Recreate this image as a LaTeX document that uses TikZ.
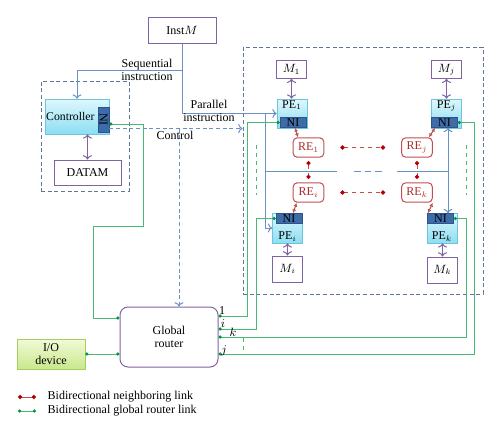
\documentclass[tikz,border=0pt]{standalone}
\usepackage{fontspec}
\setmainfont{Liberation Serif}
\usepackage{amsmath}
\usepackage{tikz}
\usetikzlibrary{arrows.meta}

\definecolor{memPurple}{RGB}{128,100,162}
\definecolor{grpBlue}{RGB}{95,118,150}
\definecolor{insBlue}{RGB}{105,145,200}
\definecolor{peTop}{RGB}{222,247,253}
\definecolor{peBot}{RGB}{140,222,242}
\definecolor{peEdge}{RGB}{110,195,222}
\definecolor{niFill}{RGB}{62,108,168}
\definecolor{niEdge}{RGB}{45,85,140}
\definecolor{reRed}{RGB}{192,80,77}
\definecolor{reText}{RGB}{170,45,45}
\definecolor{dotRed}{RGB}{180,0,0}
\definecolor{glGreen}{RGB}{70,185,115}
\definecolor{glDot}{RGB}{0,150,60}
\definecolor{ioTop}{RGB}{242,250,215}
\definecolor{ioBot}{RGB}{200,232,140}
\definecolor{ioEdge}{RGB}{165,205,95}

\begin{document}
\begin{tikzpicture}[x=0.75pt,y=0.75pt,yscale=-1,xscale=1,
  font=\fontsize{9}{9.75}\selectfont,
  membox/.style={draw=memPurple, fill=white, inner sep=0.5pt, line width=0.75pt},
  pebox/.style={draw=peEdge, top color=peTop, bottom color=peBot, inner sep=0.5pt},
  nibox/.style={draw=niEdge, fill=niFill, inner sep=0pt, minimum width=19.5pt, minimum height=7.5pt},
  rebox/.style={draw=reRed, text=reText, fill=white, rounded corners=3pt, inner sep=0.5pt, line width=0.75pt, minimum width=23pt, minimum height=14.5pt},
  grpbox/.style={draw=grpBlue, dash pattern=on 3pt off 2pt, line width=0.75pt},
  instr/.style={draw=insBlue, line width=0.75pt},
  ctrlline/.style={draw=insBlue, dash pattern=on 3pt off 2pt, line width=0.75pt},
  gblink/.style={draw=glGreen, line width=0.75pt, {Circle[length=2.4pt,fill=glDot,color=glDot]}-{Circle[length=2.4pt,fill=glDot,color=glDot]}},
  nblink/.style={draw=reRed, line width=0.75pt, {Circle[length=3.2pt,color=dotRed]}-{Circle[length=3.2pt,color=dotRed]}},
  nidual/.style={draw=reRed, line width=0.8pt, {Latex[open,length=3pt,width=3pt]}-{Latex[open,length=3pt,width=3pt]}},
  memlink/.style={draw=memPurple, line width=0.75pt, <->},
]
\useasboundingbox (0,0) rectangle (500,436);

% groups
\node[grpbox, minimum width=66pt, minimum height=82.5pt] (ctrlgrp) at (85,136) {};
\node[grpbox, minimum width=180pt, minimum height=185.25pt] (array) at (363,170.5) {};

% controller side
\node[membox, minimum width=51pt, minimum height=19.5pt] (instm) at (182,30) {Inst$M$};
\node[pebox, minimum width=48pt, minimum height=26.25pt, inner xsep=0pt, font=\fontsize{8.8}{9}\selectfont] (ctrl) at (77,116.5) {Controller\kern10pt};
\node[nibox, rotate=-90, minimum width=18.75pt, minimum height=8.25pt] (nic) at (103.5,119.5) {NI};
\node[membox, minimum width=50.25pt, minimum height=18.75pt] (datam) at (87.5,172.5) {DATAM};

% router and I/O
\node[draw=memPurple, line width=0.75pt, rounded corners=6pt, align=center, minimum width=73.5pt, minimum height=45pt] (router) at (169,337) {Global\\router};
\node[draw=ioEdge, top color=ioTop, bottom color=ioBot, align=center, minimum width=51pt, minimum height=22.5pt, inner sep=0.5pt] (io) at (51,354) {I/O\\device};

% memories
\node[membox, minimum width=22pt, minimum height=13pt] (m1) at (291.5,69.5) {$M_1$};
\node[membox, minimum width=22pt, minimum height=13pt] (mj) at (446.5,69.5) {$M_j$};
\node[membox, minimum width=23pt, minimum height=19.5pt] (mi) at (287.5,269) {$M_i$};
\node[membox, minimum width=22pt, minimum height=19.5pt] (mk) at (442.5,270) {$M_k$};

% processing elements
\node[pebox, minimum width=22.5pt, minimum height=21.75pt, label={[anchor=north, inner sep=1pt]north:PE$_1$}] (pe1) at (292,113.5) {};
\node[pebox, minimum width=22.5pt, minimum height=21.75pt, label={[anchor=north, inner sep=1pt]north:PE$_j$}] (pej) at (446.5,113.5) {};
\node[pebox, minimum width=22.5pt, minimum height=22.5pt, label={[anchor=south, inner sep=1.5pt]south:PE$_i$}] (pei) at (287.5,228) {};
\node[pebox, minimum width=22.5pt, minimum height=22.5pt, label={[anchor=south, inner sep=1.5pt]south:PE$_k$}] (pek) at (442,228) {};
\node[nibox] (ni1) at (293,122.5) {NI};
\node[nibox] (nij) at (444.5,122.5) {NI};
\node[nibox] (nii) at (289,218.5) {NI};
\node[nibox] (nik) at (440.5,218.5) {NI};

% routing elements
\node[rebox] (re1) at (308.5,147.5) {RE$_1$};
\node[rebox] (rej) at (417,147.5) {RE$_j$};
\node[rebox] (rei) at (308.5,192.5) {RE$_i$};
\node[rebox] (rek) at (417,192.5) {RE$_k$};

% instruction lines
\draw[instr,->] (instm.south) |- (pe1.west);
\draw[instr,->] (instm.south |- 0,70) -| (ctrl.north);
\draw[instr,->] (265,113.5) |- (pei.west);
\coordinate (bus) at (448,171);
\draw[instr] (265,171) -- (337,171);
\draw[instr, dash pattern=on 5pt off 3pt] (354,171) -- (385,171);
\draw[instr] (397,171) -- (bus);
\draw[instr,->] (bus) -- (bus |- nij.south);
\draw[instr,->] (bus) -- (bus |- nik.north);
\node[align=center] (seqtext) at (147,69.5) {Sequential\\instruction};
\node[align=center] (partext) at (209,111) {Parallel\\instruction};

% control
\draw[ctrlline,->] (nic.north |- 0,128.5) -- (array.west |- 0,128.5);
\draw[ctrlline,->] (179,128.5) -- (179,0 |- router.north);
\node (ctrltext) at (175,135.5) {Control};

% memory links
\draw[memlink] (datam.north |- ctrl.south) -- (datam.north);
\draw[memlink] (m1.south) -- (m1.south |- pe1.north);
\draw[memlink] (mj.south) -- (mj.south |- pej.north);
\draw[memlink] (mi.north) -- (mi.north |- pei.south);
\draw[memlink] (mk.north) -- (mk.north |- pek.south);

% NI to RE
\draw[nidual] ([xshift=1.5pt]ni1.south) -- ([xshift=4pt]re1.north west);
\draw[nidual] ([xshift=-7pt]nij.south) -- ([xshift=-3pt]rej.north east);
\draw[nidual] ([xshift=3pt]nii.north) -- ([xshift=3pt]rei.south west);
\draw[nidual] ([xshift=-9.5pt]nik.north) -- (rek.south east);

% neighboring links
\draw[nblink, dashed, shorten <=12pt, shorten >=12pt] (re1.east) -- (rej.west);
\draw[nblink, dashed, shorten <=12pt, shorten >=12pt] (rei.east) -- (rek.west);
\draw[nblink, dashed, shorten <=2.5pt, shorten >=2.5pt] (re1.south) -- (rei.north);
\draw[nblink, dashed, shorten <=2.5pt, shorten >=2.5pt] (rej.south) -- (rek.north);

% global router links
\draw[gblink] (nic.north |- 0,124) -| (143,226) -| (93,318) -- (router.west |- 0,318);
\draw[gblink] (io.east) -- (router.west |- io.east);
\draw[gblink] (router.east |- 0,316) -| (247,122.5) -- (ni1.west);
\draw[gblink] (router.east |- 0,329) -| (256,218.5) -- (nii.west);
\draw[gblink] (router.east |- 0,337) -| (466,218.5) -- (nik.east);
\draw[gblink] (router.east |- 0,354) -| (474,122.5) -- (nij.east);
\draw[glGreen, dashed, line width=0.75pt] (256,145) -- (256,195);
\draw[glGreen, dashed, line width=0.75pt] (466,145) -- (466,195);
\draw[glGreen, dashed, line width=0.75pt] (243,338) -- (243,351);

% port labels
\node (portone) at (222,311) {1};
\node (porti) at (223,324) {$i$};
\node (portk) at (233,332) {$k$};
\node (portj) at (224,351) {$j$};

% legend
\coordinate (lgna) at (18,397);
\coordinate (lgnb) at (36,397);
\coordinate (lgga) at (18,411);
\coordinate (lggb) at (36,411);
\draw[nblink] (lgna) -- (lgnb);
\draw[gblink] (lgga) -- (lggb);
\node[anchor=west] (lgntext) at (43,397) {Bidirectional neighboring link};
\node[anchor=west] (lggtext) at (43,411) {Bidirectional global router link};

\end{tikzpicture}
\end{document}
